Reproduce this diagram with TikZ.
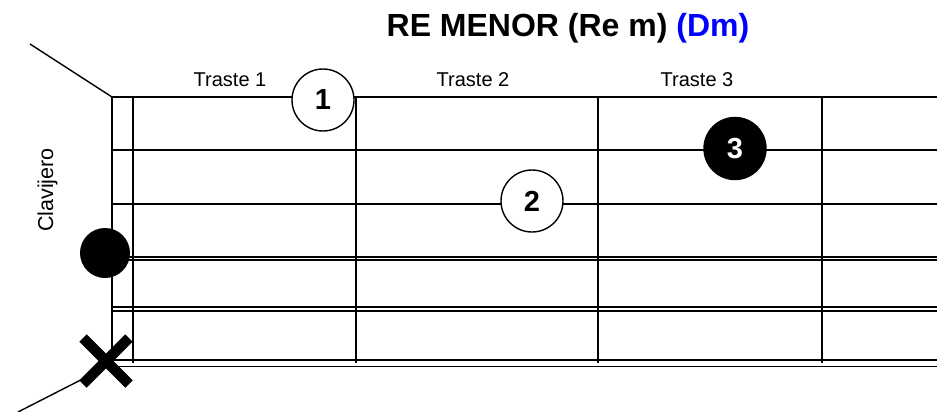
\documentclass[tikz,border=0pt]{standalone}
\usepackage{fontspec}
\setmainfont{Liberation Sans}
\begin{document}
\begin{tikzpicture}[x=1pt,y=-1pt,line width=1.4pt,
  finger/.style={circle,draw,line width=1.4pt,minimum size=62pt,inner sep=0pt,
    font=\fontsize{29}{31}\selectfont\bfseries},
  fretlabel/.style={anchor=base,font=\fontsize{20}{22}\selectfont}]
  \useasboundingbox (0,0) rectangle (937,412);

  % strings
  \draw (112,97)  -- (937,97);
  \draw (112,150) -- (937,150);
  \draw (112,204) -- (937,204);
  \draw (112,257) -- (937,257);
  \draw (112,260) -- (937,260);
  \draw (112,307) -- (937,307);
  \draw[line width=1.1pt] (112,311) -- (937,311);
  \draw (112,360) -- (937,360);
  \draw[line width=1.1pt] (112,366.5) -- (937,366.5);

  % nut and frets
  \coordinate (nuttop) at (112,97);
  \coordinate (nutbot) at (112,364);
  \draw (nuttop) -- (nutbot);
  \draw (133,97) -- (133,363);
  \draw (356,97) -- (356,363);
  \draw (598,97) -- (598,363);
  \draw (822,97) -- (822,363);

  % headstock edges
  \coordinate (headtop) at (30,44);
  \coordinate (headbot) at (18,412);
  \draw (headtop) -- (nuttop);
  \draw (headbot) -- (nutbot);

  % labels
  \node (title) at (568,37) [anchor=base,font=\fontsize{32}{36}\selectfont\bfseries]
    {RE MENOR (Re m) \textcolor{blue}{(Dm)}};
  \node (t1) at (230,87) [fretlabel] {Traste 1};
  \node (t2) at (473,87) [fretlabel] {Traste 2};
  \node (t3) at (697,87) [fretlabel] {Traste 3};
  \node (clav) at (53,190) [fretlabel,rotate=90,font=\fontsize{21.5}{23}\selectfont] {Clavijero};

  % fingers
  \node[finger,fill=white] (f1) at (323,100)   {1};
  \node[finger,fill=white] (f2) at (532,201)   {2};
  \node[finger,fill=black,text=white] (f3) at (735,148.5) {3};

  % open and muted strings
  \node[circle,fill=black,minimum size=50pt,inner sep=0pt] (open) at (105,253) {};
  \coordinate (mute) at (106,361);
  \draw[line width=10.5pt] ([shift={(-23,-23)}]mute) -- ([shift={(23,23)}]mute);
  \draw[line width=10.5pt] ([shift={(-23,23)}]mute) -- ([shift={(23,-23)}]mute);
\end{tikzpicture}
\end{document}
